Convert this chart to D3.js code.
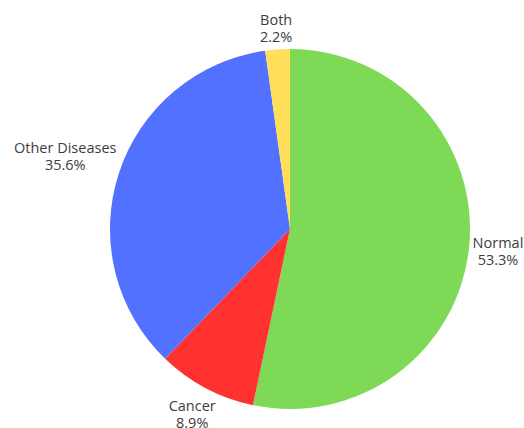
<!DOCTYPE html>
<html>
<head>
<meta charset="utf-8">
<script src="https://cdn.jsdelivr.net/npm/d3@7"></script>
<style>
  html, body { margin: 0; padding: 0; background: #fff; overflow: hidden; }
  #chart { width: 524px; height: 428px; }
</style>
</head>
<body>
<div id="chart"></div>
<script>
// Data
const categories = ['Normal', 'Cancer', 'Other Diseases', 'Both'];
const values = [53.3, 8.9, 35.6, 2.2];
const colors = ['#7ed957', '#ff3131', '#5271ff', '#ffde59'];

const width = 524, height = 428;
const cx = 290, cy = 229, radius = 180;
const labelGap = 2;

const svg = d3.select('#chart')
    .append('svg')
    .attr('width', width)
    .attr('height', height);

const g = svg.append('g')
    .attr('transform', `translate(${cx},${cy})`);

const data = categories.map((c, i) => ({ name: c, value: values[i], color: colors[i] }));

// Pie starts at 12 o'clock, clockwise, no sorting
const pie = d3.pie()
    .sort(null)
    .value(d => d.value);

const arc = d3.arc()
    .innerRadius(0)
    .outerRadius(radius);

const arcs = pie(data);

g.selectAll('path.slice')
    .data(arcs)
    .join('path')
    .attr('class', 'slice')
    .attr('d', arc)
    .attr('fill', d => d.data.color);

// Outside labels: box pushed out until its nearest edge clears the pie
const labels = g.selectAll('text.label')
    .data(arcs)
    .join('text')
    .attr('class', 'label')
    .attr('text-anchor', 'middle')
    .style('font-family', '"Open Sans", sans-serif')
    .style('font-size', '14.5px')
    .style('fill', '#3d3d3d');

labels.append('tspan')
    .attr('x', 0)
    .attr('dy', '-0.25em')
    .text(d => d.data.name);

labels.append('tspan')
    .attr('x', 0)
    .attr('dy', '1.17em')
    .text(d => d.data.value.toFixed(1) + '%');

labels.each(function(d) {
    const bb = this.getBBox();
    const mid = (d.startAngle + d.endAngle) / 2;
    const dx = Math.sin(mid), dy = -Math.cos(mid);
    const ext = Math.abs(dx) * bb.width / 2 + Math.abs(dy) * bb.height / 2;
    const r = radius + labelGap + ext;
    // centre of the box relative to the text origin
    const ox = bb.x + bb.width / 2, oy = bb.y + bb.height / 2;
    d3.select(this).attr('transform', `translate(${dx * r - ox},${dy * r - oy})`);
});
</script>
</body>
</html>
